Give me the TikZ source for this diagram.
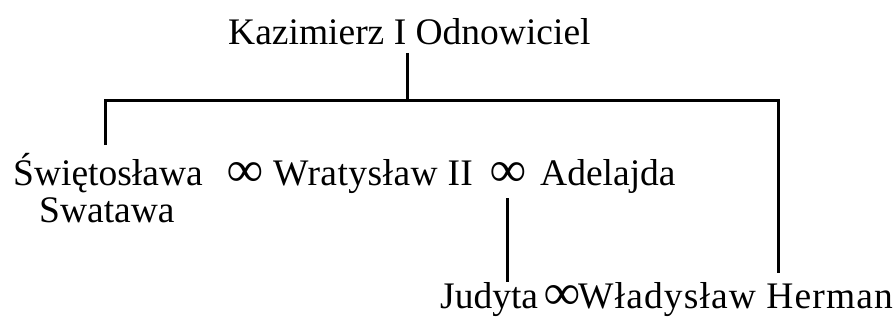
\documentclass[tikz,border=0pt]{standalone}
\usepackage{fontspec}
\setmainfont{Liberation Serif}
\begin{document}
\begin{tikzpicture}[x=1pt,y=-1pt,
  person/.style={inner sep=0pt,anchor=base west,font=\fontsize{37.5}{40}\selectfont},
  marriage/.style={inner sep=0pt,anchor=base west,font=\fontsize{50}{50}\selectfont\bfseries},
  link/.style={line width=3pt}]
\useasboundingbox (0,0) rectangle (893,321);
\node[person] (kaz) at (228,45) {Kazimierz I Odnowiciel};
\node[person] (swi) at (13,185) {Świętosława};
\node[person] (swa) at (39,222) {Swatawa};
\node[marriage] (m1) at (227,186) {∞};
\node[person] (wra) at (273,185) {\addfontfeature{LetterSpace=1.2}Wratysław II};
\node[marriage] (m2) at (490,186) {∞};
\node[person] (ade) at (540,185) {Adelajda};
\node[person] (jud) at (440,308) {Judyta};
\node[marriage] (m3) at (544,309) {∞};
\node[person] (wla) at (578,308) {\addfontfeature{LetterSpace=3}Władysław Herman};
\coordinate (kb) at (407,53);
\coordinate (bar) at (407,100);
\coordinate (lt) at (105,100);
\coordinate (lb) at (105,145);
\coordinate (rt) at (778,100);
\coordinate (rb) at (778,273);
\coordinate (jt) at (507,198);
\coordinate (jb) at (507,282);
\draw[link] (kb) -- (bar);
\draw[link] (lb) -- (lt) -- (rt) -- (rb);
\draw[link] (jt) -- (jb);
\end{tikzpicture}
\end{document}
